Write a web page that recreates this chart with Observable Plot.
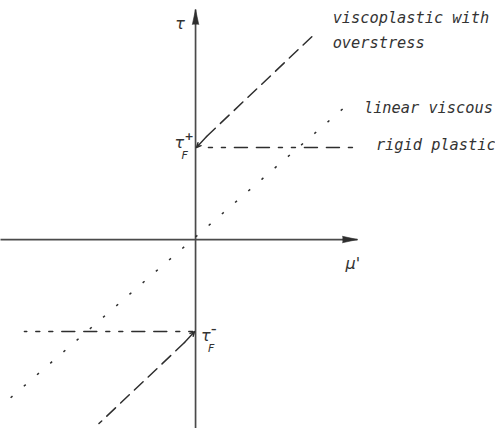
<!DOCTYPE html>
<html>
<head>
<meta charset="utf-8">
<script src="https://cdn.jsdelivr.net/npm/d3@7"></script>
<script src="https://cdn.jsdelivr.net/npm/@observablehq/plot@0.6"></script>
<style>
  html, body { margin: 0; padding: 0; background: #fff; }
  #chart svg { display: block; }
</style>
</head>
<body>
<div id="chart"></div>
<script>
// Stress τ against shear rate μ', in units of the yield stress τF.

// Coordinate axes (tail -> tip)
const axisH = [{x1: -2.12, y1: 0, x2: 1.76, y2: 0}];
const axisV = [{x1: 0, y1: -2.06, x2: 0, y2: 2.5}];

// Linear viscous: straight through the origin
const viscous = [{mu: -2.01, tau: -1.72}, {mu: 1.60, tau: 1.42}];

// Rigid plastic: flat at ±τF, drawn outward from the τ axis
const rigidUpper = [{mu: 0.14, tau: 1}, {mu: 1.74, tau: 1}];
const rigidLower = [{mu: -0.03, tau: -1}, {mu: -1.86, tau: -1}];

// Viscoplastic with overstress: offset by ±τF
const vpUpper = [{mu: 0.12, tau: 1.12}, {mu: 1.28, tau: 2.22}];
const vpLower = [{mu: -0.12, tau: -1.12}, {mu: -1.05, tau: -2.0}];
// short arrows pointing at τF+ / τF- on the axis
const vpArrows = [
  {x1: 0.12, y1: 1.12, x2: 0.01, y2: 1.0},
  {x1: -0.12, y1: -1.12, x2: -0.01, y2: -1.0}
];

// Curve labels
const curveLabels = [
  {mu: 1.49, tau: 2.087, text: "viscoplastic with\noverstress"},
  {mu: 1.83, tau: 1.37, text: "linear viscous"},
  {mu: 1.96, tau: 0.97, text: "rigid plastic"}
];
const axisLabels = [
  {mu: -0.22, tau: 2.29, text: "τ"},
  {mu: 1.63, tau: -0.32, text: "μ'"}
];
// τF± symbols: main glyph, subscript F, superscript sign
const yieldLabels = [
  {mu: -0.23, tau: 1.0, sign: "+"},
  {mu: 0.06, tau: -1.1, sign: "–"}
];

const ink = "#2e2e2e";
const labelFont = "'DejaVu Sans Mono', monospace";

const chart = Plot.plot({
  width: 495,
  height: 428,
  margin: 0,
  x: {domain: [-2.12, 3.26], axis: null},
  y: {domain: [-2.054, 2.598], axis: null},
  style: {fontFamily: "DejaVu Sans, sans-serif", background: "#fff"},
  marks: [
    // axes
    Plot.link(axisH, {x1: "x1", y1: "y1", x2: "x2", y2: "y2", stroke: "#4a4a4a", strokeWidth: 1.7}),
    Plot.link(axisV, {x1: "x1", y1: "y1", x2: "x2", y2: "y2", stroke: "#4a4a4a", strokeWidth: 1.7}),
    Plot.vector(axisH, {x: "x2", y: "y2", anchor: "end", rotate: 90, length: 15, r: 3.2, shape: "spike", fill: ink, stroke: ink, strokeWidth: 0.6}),
    Plot.vector(axisV, {x: "x2", y: "y2", anchor: "end", rotate: 0, length: 15, r: 3.2, shape: "spike", fill: ink, stroke: ink, strokeWidth: 0.6}),

    // linear viscous (dotted)
    Plot.line(viscous, {x: "mu", y: "tau", stroke: ink, strokeWidth: 1.5, strokeDasharray: "2.5,15", strokeLinecap: "butt"}),

    // rigid plastic (dash-dot)
    Plot.line(rigidUpper, {x: "mu", y: "tau", stroke: ink, strokeWidth: 1.5, strokeDasharray: "4,9,4,9,13,9,13,9"}),
    Plot.line(rigidLower, {x: "mu", y: "tau", stroke: ink, strokeWidth: 1.5, strokeDasharray: "4,9,4,9,13,9,13,9"}),

    // viscoplastic with overstress (long dashes)
    Plot.line(vpUpper, {x: "mu", y: "tau", stroke: ink, strokeWidth: 1.5, strokeDasharray: "12,7"}),
    Plot.line(vpLower, {x: "mu", y: "tau", stroke: ink, strokeWidth: 1.5, strokeDasharray: "12,7"}),
    Plot.arrow(vpArrows, {x1: "x1", y1: "y1", x2: "x2", y2: "y2", stroke: ink, strokeWidth: 1.4, headLength: 7, headAngle: 50}),

    // labels
    Plot.text(curveLabels, {x: "mu", y: "tau", text: "text", textAnchor: "start", lineAnchor: "bottom", lineHeight: 1.62,
      fontFamily: labelFont, fontSize: 15.3, fontStyle: "italic", fill: "#333"}),
    Plot.text(axisLabels, {x: "mu", y: "tau", text: "text", textAnchor: "start", lineAnchor: "bottom",
      fontSize: 16, fontStyle: "italic", fill: "#333"}),
    Plot.text(yieldLabels, {x: "mu", y: "tau", text: () => "τ", textAnchor: "start", lineAnchor: "bottom",
      fontSize: 16, fontStyle: "italic", fill: "#333"}),
    Plot.text(yieldLabels, {x: "mu", y: "tau", text: () => "F", textAnchor: "start", lineAnchor: "bottom",
      dx: 7, dy: 11, fontSize: 11, fontStyle: "italic", fill: "#333"}),
    Plot.text(yieldLabels, {x: "mu", y: "tau", text: "sign", textAnchor: "start", lineAnchor: "bottom",
      dx: 10, dy: -8, fontSize: 11, fontWeight: "bold", fill: "#333"})
  ]
});

document.getElementById("chart").append(chart);
</script>
</body>
</html>
